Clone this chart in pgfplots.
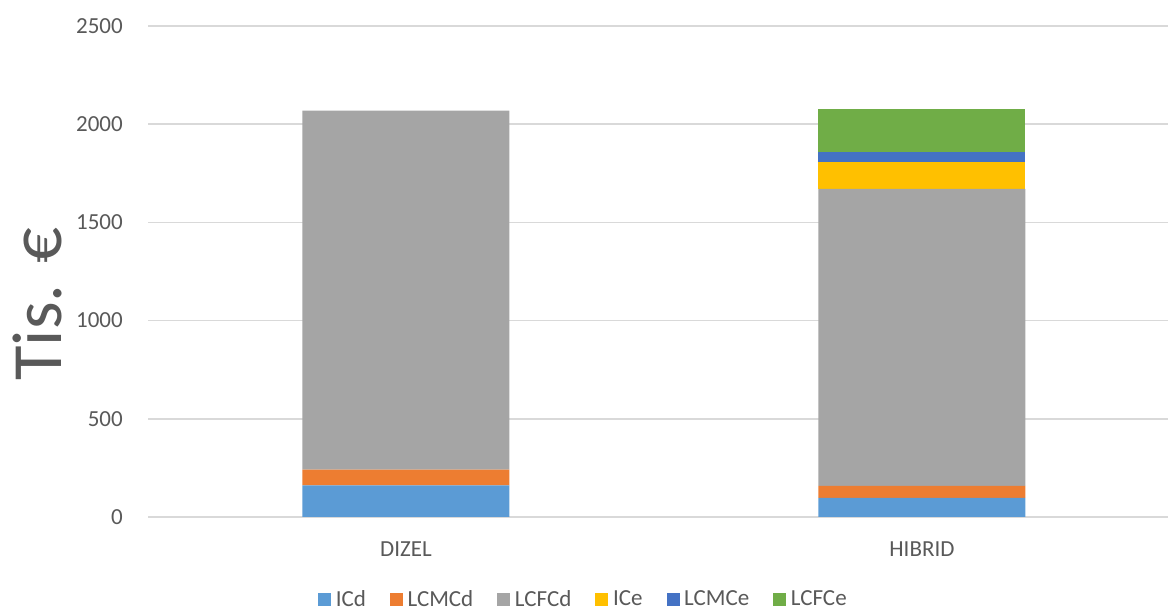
\documentclass[border=0pt]{standalone}
\usepackage{pgfplots}
\pgfplotsset{compat=1.18}
\usepackage{fontspec}
\setmainfont{Carlito}
\definecolor{cICd}{HTML}{5B9BD5}
\definecolor{cLCMCd}{HTML}{ED7D31}
\definecolor{cLCFCd}{HTML}{A5A5A5}
\definecolor{cICe}{HTML}{FFC000}
\definecolor{cLCMCe}{HTML}{4472C4}
\definecolor{cLCFCe}{HTML}{70AD47}
\definecolor{txt}{HTML}{595959}
\definecolor{grd}{HTML}{D9D9D9}
\begin{document}
\begin{tikzpicture}
\path[use as bounding box] (0,0) rectangle (876pt,459.75pt);
\begin{axis}[
    at={(111pt,72pt)}, anchor=south west,
    scale only axis,
    width=765.4pt, height=368.25pt,
    ybar stacked, bar width=155.25pt,
    xmin=-0.5, xmax=1.478,
    ymin=0, ymax=2500,
    xtick=data, xticklabels={DIZEL,HIBRID},
    ytick={0,500,1000,1500,2000,2500},
    ymajorgrids=true,
    grid style={grd, line width=1.1pt},
    axis line style={draw=none},
    major tick length=0pt,
    /pgf/number format/assume math mode=true,
    /pgf/number format/1000 sep={},
    tick label style={font=\fontsize{17.25}{20}\selectfont, text=txt},
    yticklabel style={inner sep=0pt, anchor=east, xshift=-18.75pt},
    xticklabel style={inner sep=0pt, anchor=north, yshift=-18pt},
    ylabel={Tis. €},
    every axis y label/.style={at={(axis description cs:-0.1088,0.434)}, rotate=90, anchor=center,
        font=\fontsize{53}{53}\selectfont, text=txt},
    legend columns=6,
    legend style={at={(axis description cs:0.427,-0.168)}, anchor=center, draw=none,
        font=\fontsize{17.25}{20}\selectfont, text=txt,
        /tikz/every odd column/.append style={column sep=1.5pt},
        /tikz/every even column/.append style={column sep=16pt}},
    legend image code/.code={\fill[#1] (0pt,-4.875pt) rectangle (9.75pt,4.875pt);},
]
\addplot[fill=cICd, draw=none] coordinates {(0,161) (1,97)};
\addlegendentry{ICd}
\addplot[fill=cLCMCd, draw=none] coordinates {(0,80) (1,62)};
\addlegendentry{LCMCd}
\addplot[fill=cLCFCd, draw=none] coordinates {(0,1828) (1,1512)};
\addlegendentry{LCFCd}
\addplot[fill=cICe, draw=none] coordinates {(0,0) (1,137)};
\addlegendentry{ICe}
\addplot[fill=cLCMCe, draw=none] coordinates {(0,0) (1,51)};
\addlegendentry{LCMCe}
\addplot[fill=cLCFCe, draw=none] coordinates {(0,0) (1,219)};
\addlegendentry{LCFCe}
\end{axis}
\end{tikzpicture}
\end{document}
